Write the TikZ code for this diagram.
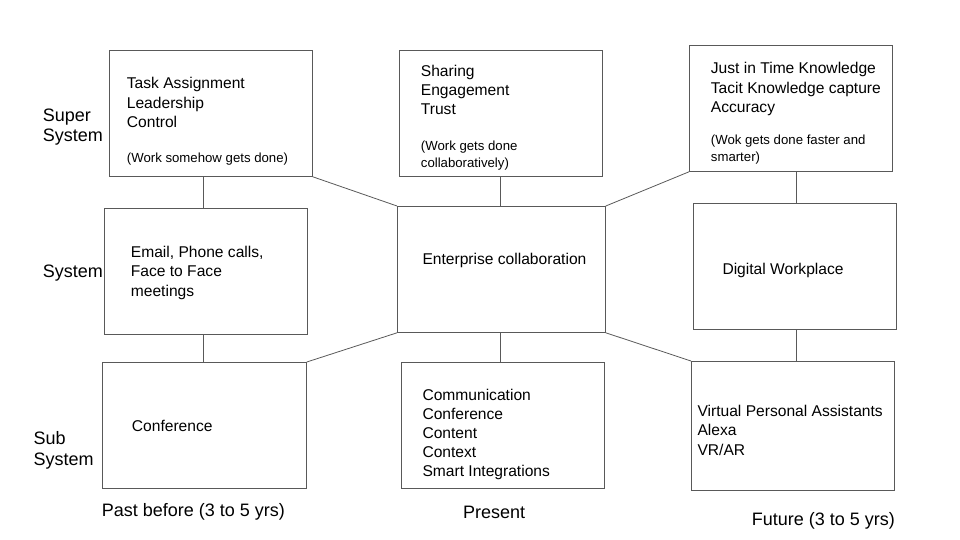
\documentclass[tikz,border=0pt]{standalone}
\usepackage{fontspec}
\setmainfont{Liberation Sans}
\usetikzlibrary{calc}
\definecolor{linegray}{HTML}{595959}
\newcommand{\boxfont}{\fontsize{15.6}{19.2}\selectfont}
\newcommand{\notefont}{\fontsize{13.2}{17}\selectfont}
\newcommand{\rowfont}{\fontsize{18}{20.3}\selectfont}
\tikzset{%
  box/.style={draw=linegray, line width=0.8pt, anchor=north west, inner sep=0pt,
              minimum width=203pt, minimum height=126pt},
  txt/.style={anchor=base west, inner sep=0pt, align=left, font=\boxfont},
  note/.style={anchor=base west, inner sep=0pt, align=left, font=\notefont},
  rowlabel/.style={anchor=base west, inner sep=0pt, align=left, font=\rowfont},
  link/.style={draw=linegray, line width=0.8pt},
}

\begin{document}
\begin{tikzpicture}[x=1pt, y=-1pt]
    \useasboundingbox (0,0) rectangle (960,540);

    % boxes
    \node[box] (spPast) at (109,50) {};
    \node[box] (spNow) at (399,50) {};
    \node[box] (spFut) at (689,45) {};
    \node[box] (sysPast) at (104,208) {};
    \node[box, minimum width=208pt] (sysNow) at (397,206) {};
    \node[box] (sysFut) at (693,203) {};
    \node[box, minimum width=204pt] (subPast) at (102,362) {};
    \node[box] (subNow) at (401,362) {};
    \node[box, minimum height=129pt] (subFut) at (691,361) {};

    % box texts (placed at the baseline of the last line)
    \node[txt] (tPast) at (126.7,127.4) {Task Assignment\\Leadership\\Control};
    \node[note] (nPast) at (126.7,163) {(Work somehow gets done)};
    \node[txt] (tNow) at (420.7,114.9) {Sharing\\Engagement\\Trust};
    \node[note] (nNow) at (420.7,167.5) {(Work gets done\\collaboratively)};
    \node[txt] (tFut) at (710.7,112.4) {Just in Time Knowledge\\Tacit Knowledge capture\\Accuracy};
    \node[note] (nFut) at (710.7,161.3) {(Wok gets done faster and\\smarter)};
    \node[txt] (tMail) at (130.7,296.1) {Email, Phone calls,\\Face to Face\\meetings};
    \node[txt] (tEnt) at (422.3,264.7) {Enterprise collaboration};
    \node[txt] (tDig) at (722.3,274) {Digital Workplace};
    \node[txt] (tConf) at (131.7,431.7) {Conference};
    \node[txt] (tComm) at (422.3,476.8) {Communication\\Conference\\Content\\Context\\Smart Integrations};
    \node[txt] (tVpa) at (697.3,455.1) {Virtual Personal Assistants\\Alexa\\VR/AR};

    % row and column labels
    \node[rowlabel] (rSuper) at (42.7,141.8) {Super\\System};
    \node[rowlabel] (rSys) at (42.7,277.3) {System};
    \node[rowlabel] (rSub) at (33.3,465) {Sub\\System};
    \node[rowlabel] (cPast) at (101.7,516.7) {Past before (3 to 5 yrs)};
    \node[rowlabel] (cNow) at (463,518.3) {Present};
    \node[rowlabel] (cFut) at (751.7,525) {Future (3 to 5 yrs)};

    % vertical links
    \coordinate (pastline) at (203,0);
    \coordinate (nowline) at (500,0);
    \coordinate (futline) at (796,0);
    \draw[link] (pastline |- spPast.south) -- (pastline |- sysPast.north);
    \draw[link] (pastline |- sysPast.south) -- (pastline |- subPast.north);
    \draw[link] (nowline |- spNow.south) -- (nowline |- sysNow.north);
    \draw[link] (nowline |- sysNow.south) -- (nowline |- subNow.north);
    \draw[link] (futline |- spFut.south) -- (futline |- sysFut.north);
    \draw[link] (futline |- sysFut.south) -- (futline |- subFut.north);

    % links to the middle box
    \draw[link] (spPast.south east) -- (sysNow.north west);
    \draw[link] (spFut.south west) -- (sysNow.north east);
    \draw[link] (sysNow.south west) -- (subPast.north east);
    \draw[link] (sysNow.south east) -- (subFut.north west);

\end{tikzpicture}
\end{document}
